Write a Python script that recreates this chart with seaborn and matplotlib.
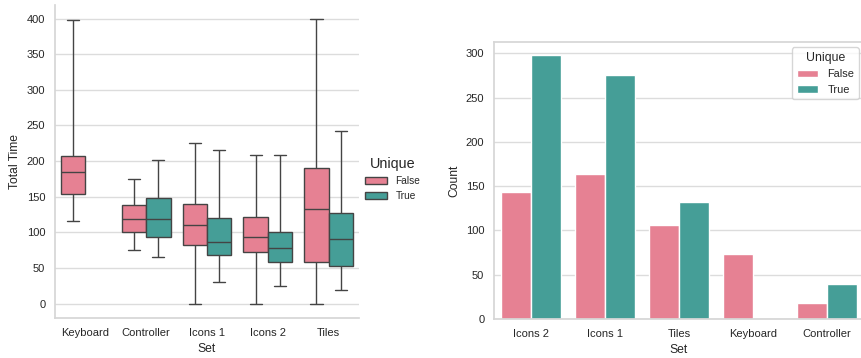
import numpy as np
import pandas as pd
import seaborn as sns
import matplotlib.pyplot as plt

# Five-number summaries of Total Time per set, split by Unique
box_sets = ["Keyboard", "Controller", "Icons 1", "Icons 2", "Tiles"]
false_min = [116, 76, 0, 0, 0]
false_q1 = [154, 101, 83, 72, 59]
false_median = [185, 119, 111, 94, 133]
false_q3 = [207, 138, 140, 122, 190]
false_max = [398, 175, 225, 208, 399]
true_min = [None, 66, 30, 25, 19]
true_q1 = [None, 94, 69, 58, 53]
true_median = [None, 119, 86, 78, 91]
true_q3 = [None, 149, 120, 101, 127]
true_max = [None, 201, 215, 208, 242]

# Number of records per set, split by Unique
count_sets = ["Icons 2", "Icons 1", "Tiles", "Keyboard", "Controller"]
count_false = [143, 164, 106, 73, 18]
count_true = [298, 276, 132, 0, 40]

hue_levels = ["False", "True"]

rows = []
for label, stats in (("False", (false_min, false_q1, false_median, false_q3, false_max)),
                     ("True", (true_min, true_q1, true_median, true_q3, true_max))):
    for i, s in enumerate(box_sets):
        if stats[0][i] is None:
            continue
        for st in stats:
            rows.append({"Set": s, "Unique": label, "Total Time": st[i]})
box_df = pd.DataFrame(rows)

count_df = pd.DataFrame({
    "Set": count_sets * 2,
    "Unique": ["False"] * len(count_sets) + ["True"] * len(count_sets),
    "Count": count_false + count_true,
})

sns.set_theme(style="whitegrid", font="Liberation Sans")
plt.rcParams["font.family"] = ["Liberation Sans", "DejaVu Sans"]
plt.rcParams["grid.color"] = "#dcdcdc"
plt.rcParams["axes.edgecolor"] = "#d6d6d6"

pal = sns.color_palette("husl", 2)

fig = plt.figure(figsize=(8.61, 3.58), dpi=100)
ax1 = fig.add_axes([55 / 861, 40 / 358, 304 / 861, 313 / 358])
ax2 = fig.add_axes([494 / 861, 39 / 358, 370 / 861, 277 / 358])

sns.boxplot(data=box_df, x="Set", y="Total Time", hue="Unique",
            order=box_sets, hue_order=hue_levels, palette=pal,
            whis=np.inf, linewidth=1, ax=ax1)
sns.despine(ax=ax1)
sns.move_legend(ax1, "center left", bbox_to_anchor=(0.99, 0.444), frameon=False,
                title="Unique", fontsize=7.3, title_fontsize=10.4,
                handlelength=2.2, handleheight=0.8)

sns.barplot(data=count_df, x="Set", y="Count", hue="Unique",
            order=count_sets, hue_order=hue_levels, palette=pal, ax=ax2)
sns.move_legend(ax2, "upper right", title="Unique", fontsize=7.9, title_fontsize=8.8)

for ax in (ax1, ax2):
    ax.tick_params(labelsize=8, pad=7, length=0)
    ax.xaxis.label.set_size(8.7)
    ax.yaxis.label.set_size(8.7)
    ax.xaxis.labelpad = 4
    ax.yaxis.labelpad = 4
    ax.grid(axis="x", visible=False)

ax1.set_yticks([0, 50, 100, 150, 200, 250, 300, 350, 400])

fig.savefig("out.png", dpi=100)
